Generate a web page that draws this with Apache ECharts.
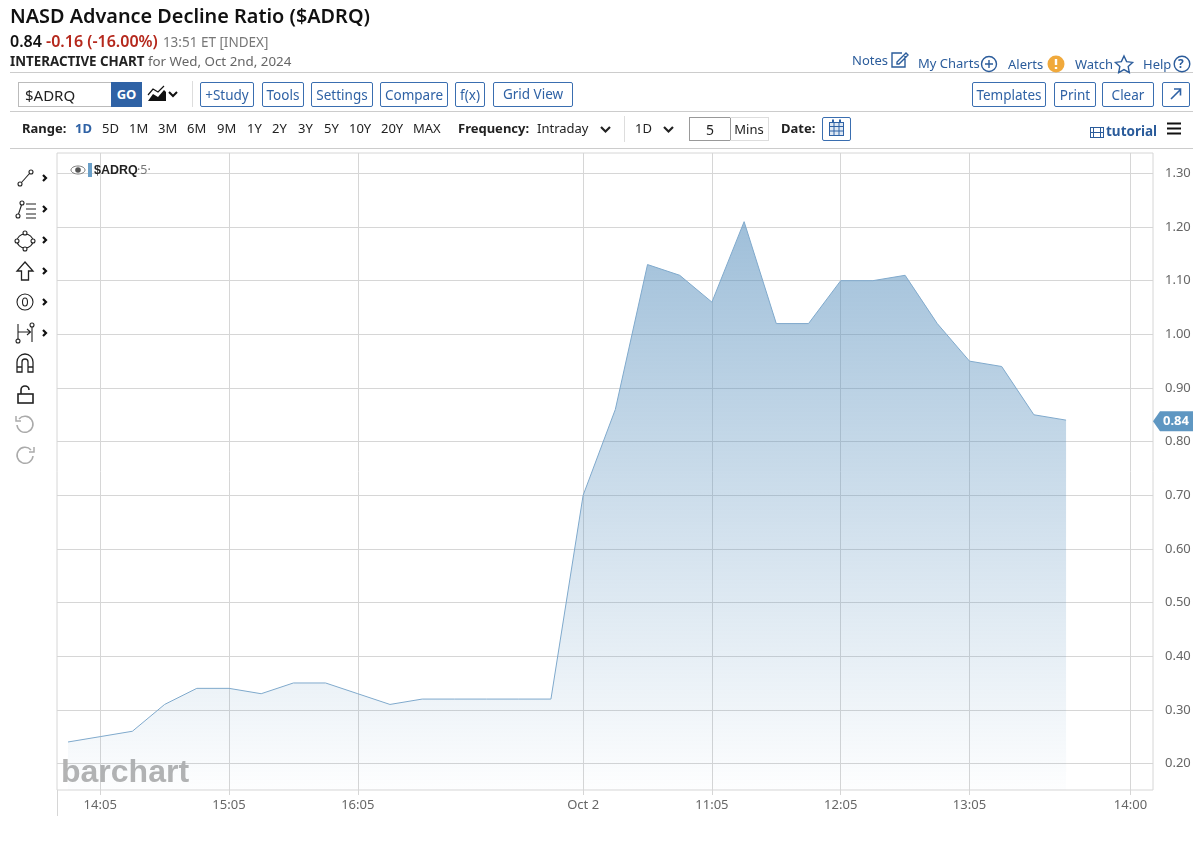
<!DOCTYPE html>
<html>
<head>
<meta charset="utf-8">
<title>$ADRQ</title>
<script src="https://cdn.jsdelivr.net/npm/echarts@6/dist/echarts.min.js"></script>
<style>
  html, body { margin: 0; padding: 0; background: #fff; }
  body { position: relative; width: 1200px; height: 849px; overflow: hidden; font-family: "Noto Sans", sans-serif; color: #222; }
  #chart { position: absolute; left: 0; top: 0; width: 1200px; height: 849px; }
  .t { position: absolute; white-space: nowrap; line-height: 1; }
  .hr { position: absolute; left: 10px; width: 1183px; height: 1px; background: #ccc; }
  .btn { position: absolute; top: 82px; height: 23px; box-sizing: content-box; border: 1px solid #3a6eb0; border-radius: 2px; color: #2f62a5; font-size: 13.5px; line-height: 24px; text-align: center; }
  .link { color: #2b5c9b; font-size: 13px; }
  .rng { font-size: 13px; top: 122px; color: #222; }
  svg.ic { position: absolute; overflow: visible; fill: none; }
</style>
</head>
<body>
<div id="chart"></div>

<div class="t" style="left:10px;top:6px;font-size:19.85px;font-weight:600;color:#111">NASD Advance Decline Ratio ($ADRQ)</div>
<div class="t" style="left:10px;top:33px;font-size:16px"><b style="color:#111;font-weight:600">0.84</b> <b style="color:#b5281c;font-weight:600">-0.16 (-16.00%)</b> <span style="color:#777;font-size:13.5px;margin-left:1px">13:51 ET [INDEX]</span></div>
<div class="t" style="left:10px;top:55px;font-size:13.35px"><b style="color:#222;font-weight:700">INTERACTIVE CHART</b> <span style="color:#666">for Wed, Oct 2nd, 2024</span></div>

<div class="hr" style="top:72px"></div>
<div class="hr" style="top:111px"></div>
<div class="hr" style="top:148px"></div>

<div class="t link" style="left:852px;top:54px">Notes</div>
<div class="t link" style="left:918px;top:57px">My Charts</div>
<div class="t link" style="left:1008px;top:58px">Alerts</div>
<div class="t link" style="left:1075px;top:58px">Watch</div>
<div class="t link" style="left:1143px;top:58px">Help</div>
<svg class="ic" style="left:0;top:0" width="1200" height="100" stroke="#2b5c9b" stroke-width="1.4">
  <path d="M905 56v11h-13v-14h10M897 62l9-9 2 2-9 9h-2z"/>
  <circle cx="989" cy="64" r="7.5"/><path d="M985 64h8M989 60v8"/>
  <circle cx="1056" cy="64" r="8.5" fill="#f0a93c" stroke="none"/><path d="M1056 59v6M1056 67v2" stroke="#fff" stroke-width="2.4"/>
  <path d="M1124 56l2.6 5.6 6 .8-4.400 4.200 1.100 6-5.300-3-5.300 3 1.100-6-4.400-4.200 6-.8z"/>
  <circle cx="1182" cy="64" r="7.800"/>
</svg>
<div class="t" style="left:1178px;top:58px;font-size:12px;font-weight:700;color:#2b5c9b">?</div>

<div style="position:absolute;left:18px;top:82px;width:92px;height:23px;border:1px solid #bbb;font-size:15px;line-height:24px;text-indent:6px;color:#222">$ADRQ</div>
<div style="position:absolute;left:111px;top:82px;width:31px;height:25px;background:#2f62a5;color:#fff;font-weight:700;font-size:13px;line-height:25px;text-align:center">GO</div>
<svg class="ic" style="left:0;top:0" width="200" height="110">
  <path d="M148 101l5-7 5 3 6-7 2 2v9z" fill="#111"/><path d="M148 95l5-6 5 3 6-6" stroke="#111" stroke-width="1.2"/>
  <path d="M169 92l4 4 4-4" stroke="#111" stroke-width="2"/>
</svg>
<div style="position:absolute;left:192px;top:81px;width:1px;height:26px;background:#ddd"></div>

<div class="btn" style="left:200px;width:52px">+Study</div>
<div class="btn" style="left:262px;width:40px">Tools</div>
<div class="btn" style="left:311px;width:60px">Settings</div>
<div class="btn" style="left:380px;width:66px">Compare</div>
<div class="btn" style="left:455px;width:28px">f(x)</div>
<div class="btn" style="left:493px;width:78px;line-height:22px">Grid View</div>
<div class="btn" style="left:972px;width:72px">Templates</div>
<div class="btn" style="left:1054px;width:40px">Print</div>
<div class="btn" style="left:1102px;width:50px">Clear</div>
<div class="btn" style="left:1162px;width:26px"></div>
<svg class="ic" style="left:0;top:0" width="1200" height="110" stroke="#2f62a5" stroke-width="1.6">
  <path d="M1171 99l9-9M1174 89h6.500v6.500"/>
</svg>

<div class="t rng" style="left:22px;font-weight:700">Range:</div>
<div class="t rng" style="left:75px;font-weight:700;color:#2f62a5">1D</div>
<div class="t rng" style="left:102px">5D</div>
<div class="t rng" style="left:129px">1M</div>
<div class="t rng" style="left:158px">3M</div>
<div class="t rng" style="left:187px">6M</div>
<div class="t rng" style="left:217px">9M</div>
<div class="t rng" style="left:247px">1Y</div>
<div class="t rng" style="left:272px">2Y</div>
<div class="t rng" style="left:298px">3Y</div>
<div class="t rng" style="left:324px">5Y</div>
<div class="t rng" style="left:349px">10Y</div>
<div class="t rng" style="left:381px">20Y</div>
<div class="t rng" style="left:413px">MAX</div>
<div class="t rng" style="left:458px;font-weight:700">Frequency:</div>
<div class="t rng" style="left:537px">Intraday</div>
<div class="t rng" style="left:635px">1D</div>
<div style="position:absolute;left:624px;top:116px;width:1px;height:26px;background:#ddd"></div>
<div style="position:absolute;left:689px;top:117px;width:40px;height:22px;border:1px solid #999;font-size:14px;line-height:23px;text-align:center">5</div>
<div style="position:absolute;left:730px;top:117px;width:38px;height:22px;border:1px solid #ddd;border-left:none;font-size:13px;line-height:22px;text-align:center">Mins</div>
<div class="t rng" style="left:781px;font-weight:700">Date:</div>
<div style="position:absolute;left:822px;top:117px;width:27px;height:22px;border:1px solid #3a6eb0;border-radius:2px"></div>
<svg class="ic" style="left:0;top:0" width="1200" height="150" stroke="#222" stroke-width="2.2">
  <path d="M601 127l4.500 4.500 4.500-4.500M664 127l4.500 4.500 4.500-4.500"/>
  <g stroke="#2f62a5" stroke-width="1"><rect x="829.500" y="122.500" width="14" height="13" fill="#dfe8f3"/><path d="M829.500 126.500h14M829.500 131h14M834 123v13M839 123v13"/><path d="M833 119.500v3M840 119.500v3" stroke-width="2"/></g>
  <g stroke="#2b5c9b" stroke-width="1"><rect x="1090.500" y="127.500" width="13" height="10"/><path d="M1093.500 127.500v10M1100.500 127.500v10M1090.500 132.500h13"/></g>
  <path d="M1167 123.500h14M1167 128.500h14M1167 133.500h14" stroke="#111"/>
</svg>
<div class="t" style="left:1106px;top:125px;font-size:13.500px;font-weight:700;color:#2b5c9b">tutorial</div>

<!-- drawing tools down the left edge -->
<svg class="ic" style="left:0;top:0" width="60" height="480" stroke="#222" stroke-width="1.1">
  <circle cx="20" cy="184" r="2"/><circle cx="31" cy="172" r="2"/><path d="M21.500 182.500l8-9"/>
  <circle cx="18" cy="216" r="2"/><circle cx="22" cy="203" r="2"/><path d="M18.500 214l3-9M26 204h10M26 209h10M26 214h10M26 218h10"/>
  <ellipse cx="25" cy="241" rx="8" ry="7"/><circle cx="25" cy="233" r="2" fill="#fff"/><circle cx="25" cy="249" r="2" fill="#fff"/><circle cx="17" cy="241" r="2" fill="#fff"/><circle cx="33" cy="241" r="2" fill="#fff"/>
  <path d="M25 262l8 9h-4.500v9h-7v-9H17z" stroke-width="1.300"/>
  <circle cx="25" cy="302" r="8"/><ellipse cx="25" cy="302" rx="2.500" ry="4"/>
  <path d="M18 324v16M18 332h12M27 329l3.500 3-3.500 3M32 327v15"/><circle cx="18" cy="341" r="2"/><circle cx="32" cy="325" r="2"/>
  <path d="M17 372v-10a8 8 0 0 1 16 0v10h-5v-10a3 3 0 0 0-6 0v10zM17 367h5M28 367h5" stroke-width="1.300"/>
  <rect x="18" y="394" width="15" height="9" stroke-width="1.600"/><path d="M21 394v-4a4 4 0 0 1 8 0" stroke-width="1.600"/>
  <g stroke="#aaa" stroke-width="1.500"><path d="M19 419a8 8 0 1 1-2 6M16 416v5h5"/><path d="M31 450a8 8 0 1 0 2 6M34 447v5h-5"/></g>
  <g stroke="#111" stroke-width="2.200"><path d="M43 175l3 3-3 3M43 206l3 3-3 3M43 237l3 3-3 3M43 268l3 3-3 3M43 299l3 3-3 3M43 330l3 3-3 3"/></g>
</svg>

<script>
  // one reading per 15 minute slot, prior session runs into Oct 2
  const ratioValues = [0.24, 0.25, 0.26, 0.31, 0.34, 0.34, 0.33, 0.35, 0.35, 0.33, 0.31, 0.32, 0.32, 0.32, 0.32, 0.32,
    0.70, 0.86, 1.13, 1.11, 1.06, 1.21, 1.02, 1.02, 1.10, 1.10, 1.11, 1.02, 0.95, 0.94, 0.85, 0.84];
  const xTickSlots = [1, 5, 9, 16, 20, 24, 28, 33];
  const xTickLabels = ['14:05', '15:05', '16:05', 'Oct 2', '11:05', '12:05', '13:05', '14:00'];
  const yTicks = [0.2, 0.3, 0.4, 0.5, 0.6, 0.7, 0.8, 0.9, 1.0, 1.1, 1.2, 1.3];
  const lastValue = 0.84;

  const fontName = '"Noto Sans", sans-serif';
  const myChart = echarts.init(document.getElementById('chart'));
  const gridColor = '#d6d6d6';

  const option = {
    animation: false,
    grid: { left: 57, right: 47, top: 153, bottom: 59, show: true, borderColor: gridColor, borderWidth: 1 },
    xAxis: {
      type: 'value',
      min: -0.342,
      max: 33.7,
      axisLine: { show: false },
      axisTick: { show: true, length: 5, customValues: xTickSlots, lineStyle: { color: gridColor } },
      axisLabel: {
        customValues: xTickSlots,
        color: '#666',
        fontSize: 13,
        fontFamily: fontName,
        margin: 9,
        formatter: (v) => xTickLabels[xTickSlots.indexOf(v)] || ''
      },
      splitLine: { show: true, lineStyle: { color: gridColor, width: 1 } }
    },
    yAxis: {
      type: 'value',
      position: 'right',
      min: 0.1505,
      max: 1.338,
      axisLine: { show: false },
      axisTick: { show: false, customValues: yTicks },
      axisLabel: {
        customValues: yTicks,
        color: '#666',
        fontSize: 13,
        fontFamily: fontName,
        margin: 12,
        padding: [4, 0, 0, 0],
        formatter: (v) => v.toFixed(2)
      },
      splitLine: { show: true, lineStyle: { color: gridColor, width: 1 } }
    },
    series: [
      {
        name: '$ADRQ',
        type: 'line',
        data: ratioValues.map((v, i) => [i, v]),
        symbol: 'none',
        lineStyle: { color: '#7fa9cc', width: 1 },
        areaStyle: {
          origin: 'start',
          opacity: 1,
          color: new echarts.graphic.LinearGradient(0, 0, 0, 1, [
            { offset: 0, color: 'rgba(90,145,190,0.58)' },
            { offset: 1, color: 'rgba(90,145,190,0.01)' }
          ])
        }
      }
    ]
  };

  // 使用配置项和数据显示图表
  myChart.setOption(option);

  const tagY = myChart.convertToPixel({ yAxisIndex: 0 }, lastValue);
  myChart.setOption({
    graphic: [
      // frame runs on below the plot on the left
      { type: 'line', silent: true, shape: { x1: 57.5, y1: 790, x2: 57.5, y2: 816 }, style: { stroke: gridColor, lineWidth: 1 } },
      // last value tag
      { type: 'polygon', silent: true, shape: { points: [[1153, tagY + 1], [1160, tagY - 9], [1193, tagY - 9], [1193, tagY + 11], [1160, tagY + 11]] }, style: { fill: '#5f97c2' } },
      { type: 'text', silent: true, x: 1163, y: tagY - 5, style: { text: lastValue.toFixed(2), fill: '#fff', font: '700 13px ' + fontName } },
      // legend
      { type: 'ellipse', silent: true, shape: { cx: 78, cy: 170, rx: 7, ry: 4 }, style: { fill: '#fff', stroke: '#777', lineWidth: 1 } },
      { type: 'circle', silent: true, shape: { cx: 78, cy: 170, r: 2.8 }, style: { fill: '#555' } },
      { type: 'rect', silent: true, shape: { x: 88, y: 163, width: 4, height: 14 }, style: { fill: '#6a9fc8' } },
      { type: 'text', silent: true, x: 94, y: 164, style: { text: '$ADRQ', fill: '#222', font: '700 12.5px "Liberation Sans", sans-serif' } },
      { type: 'text', silent: true, x: 137, y: 164, style: { text: '·5·', fill: '#777', font: '12.5px ' + fontName } },
      // watermark
      { type: 'text', silent: true, x: 61, y: 757, style: { text: 'barchart', fill: '#b3b3b3', font: '700 32px "Liberation Sans", sans-serif' } }
    ]
  });
</script>
</body>
</html>
